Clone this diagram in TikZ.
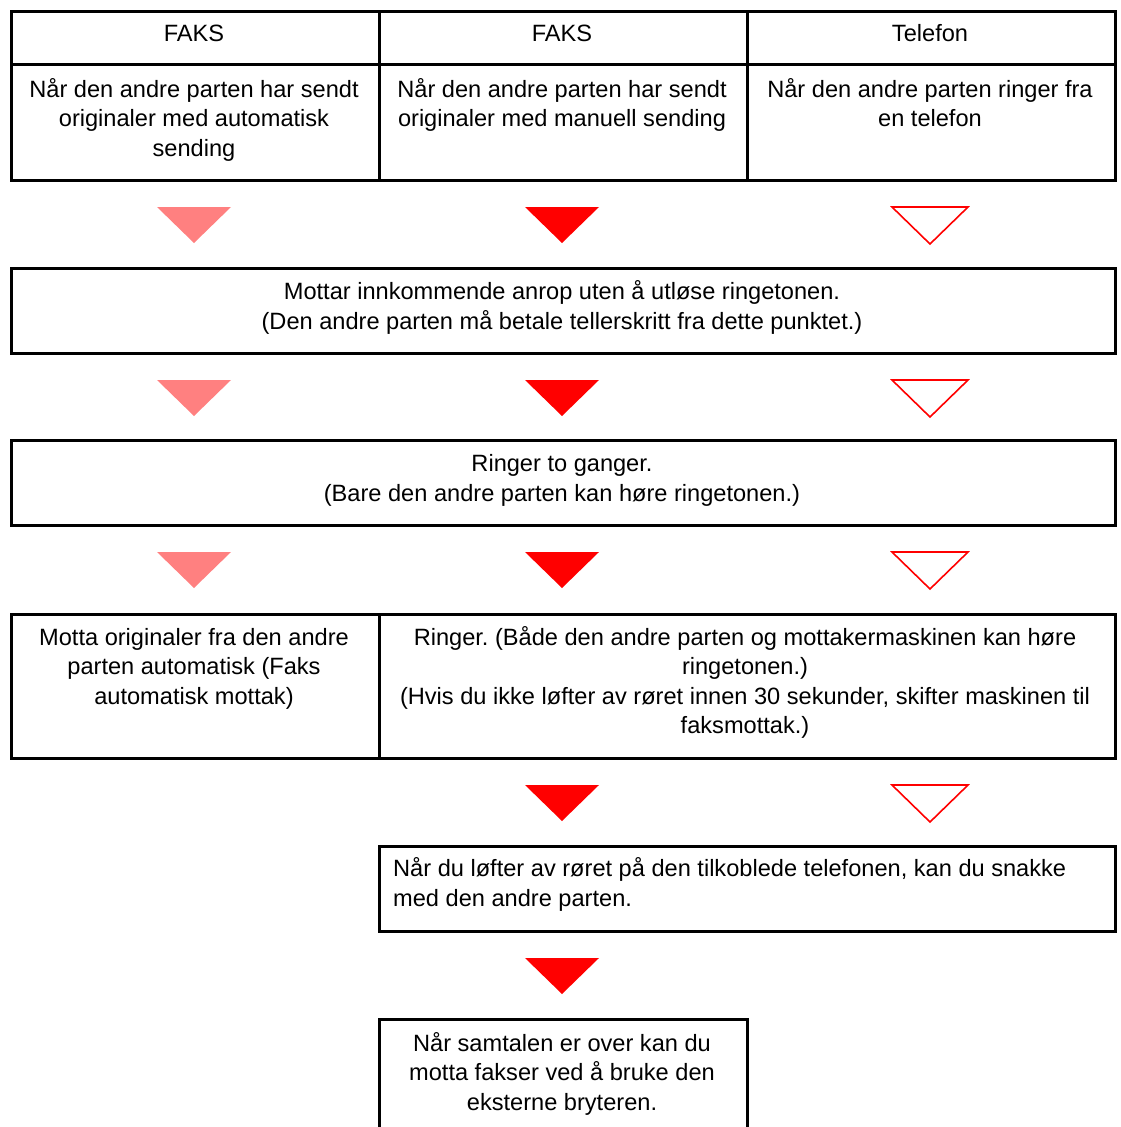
\documentclass[tikz,border=0pt]{standalone}
\usepackage{fontspec}
\setmainfont{Liberation Sans}
\frenchspacing
\begin{document}
\begin{tikzpicture}[x=1pt,y=-1pt,line join=miter,
  cell/.style={draw,line width=2.8pt,inner sep=0pt,anchor=north west},
  txt/.style={font=\fontsize{23.6}{29.5}\selectfont,align=center,inner sep=0pt,anchor=base},
  fulltri/.style={fill=red},
  halftri/.style={fill=red!50},
  opentri/.style={draw=red,line width=1.6pt,fill=white}]
\useasboundingbox (0,0) rectangle (1120,1127);
% header table
\node[cell,minimum width=368pt,minimum height=53pt] (h1) at (10,10) {};
\node[cell,minimum width=368pt,minimum height=53pt] (h2) at (378,10) {};
\node[cell,minimum width=368pt,minimum height=53pt] (h3) at (746,10) {};
\node[cell,minimum width=368pt,minimum height=116pt] (s1) at (10,63) {};
\node[cell,minimum width=368pt,minimum height=116pt] (s2) at (378,63) {};
\node[cell,minimum width=368pt,minimum height=116pt] (s3) at (746,63) {};
% base = last line of each text
\node[txt] (h1t) at (194,41.5) {FAKS};
\node[txt] (h2t) at (562,41.5) {FAKS};
\node[txt] (h3t) at (930,41.5) {Telefon};
\node[txt] (s1t) at (194,156) {Når den andre parten har sendt\\originaler med automatisk\\sending};
\node[txt] (s2t) at (562,126.5) {Når den andre parten har sendt\\originaler med manuell sending};
\node[txt] (s3t) at (930,126.5) {Når den andre parten ringer fra\\en telefon};
% steps
\node[cell,minimum width=1104pt,minimum height=85pt] (b2) at (10,267) {};
\node[txt] (b2t) at (562,329) {Mottar innkommende anrop uten å utløse ringetonen.\\(Den andre parten må betale tellerskritt fra dette punktet.)};
\node[cell,minimum width=1104pt,minimum height=85pt] (b3) at (10,439) {};
\node[txt] (b3t) at (562,501) {Ringer to ganger.\\(Bare den andre parten kan høre ringetonen.)};
\node[cell,minimum width=368pt,minimum height=144pt] (b4a) at (10,613) {};
\node[cell,minimum width=736pt,minimum height=144pt] (b4b) at (378,613) {};
\node[txt] (b4at) at (194,704) {Motta originaler fra den andre\\parten automatisk (Faks\\automatisk mottak)};
\node[txt] (b4bt) at (745,733.5) {Ringer. (Både den andre parten og mottakermaskinen kan høre\\ringetonen.)\\(Hvis du ikke løfter av røret innen 30 sekunder, skifter maskinen til\\faksmottak.)};
\node[cell,minimum width=736pt,minimum height=85pt] (b5) at (378,845) {};
\node[txt,align=left,anchor=base west] (b5t) at (393,906) {Når du løfter av røret på den tilkoblede telefonen, kan du snakke\\med den andre parten.};
\node[cell,minimum width=368pt,minimum height=120pt] (b6) at (378,1018) {};
\node[txt] (b6t) at (562,1110) {Når samtalen er over kan du\\motta fakser ved å bruke den\\eksterne bryteren.};
% triangles
\foreach \t in {207,380,552}{
  \fill[halftri] (157,\t) -- (231,\t) -- (194,\t+36) -- cycle;
}
\foreach \t in {207,380,552,785,958}{
  \fill[fulltri] (525,\t) -- (599,\t) -- (562,\t+36) -- cycle;
}
\foreach \t in {207,380,552,785}{
  \draw[opentri] (892,\t) -- (968,\t) -- (930,\t+37) -- cycle;
}
\end{tikzpicture}
\end{document}
